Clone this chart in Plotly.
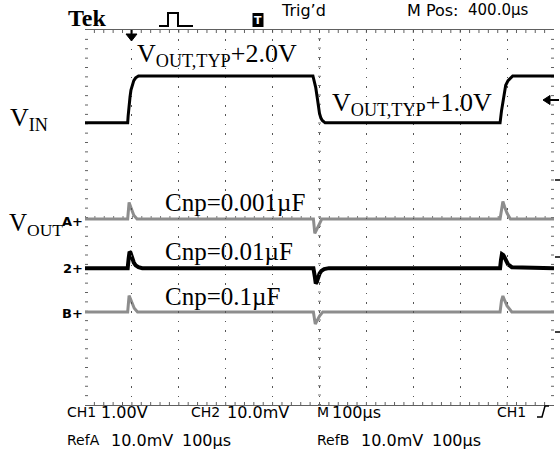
import plotly.graph_objects as go

# ---------------- data (time in microseconds, VIN in V above VOUT,TYP, VOUT deviation in mV)
t_vin = [0, 91, 92, 94, 96, 98, 101, 104, 108, 114, 486, 489, 492, 495, 497, 500, 503, 506, 512,
         885, 888, 891, 894, 897, 902, 912, 1000]
v_vin = [1.0, 1.0, 1.15, 1.45, 1.55, 1.7, 1.8, 1.9, 1.96, 2.0, 2.0, 1.9, 1.75, 1.55, 1.4, 1.2, 1.1, 1.05, 1.0,
         1.0, 1.25, 1.47, 1.68, 1.8, 1.9, 2.0, 2.0]

t_ch2 = [0, 91, 93, 95, 97, 100, 104, 108, 114, 122, 487, 490, 492, 494, 497, 500, 504, 510, 520,
         885, 887, 889, 892, 896, 902, 910, 1000]
v_ch2 = [0, 0, 2.0, 3.5, 3.3, 2.3, 1.2, 0.6, 0.2, 0, 0, -1.8, -3.3, -3.0, -2.0, -1.2, -0.6, -0.2, 0,
         0, 1.8, 3.0, 2.8, 1.8, 0.8, 0.2, 0]

t_refa = [0, 91, 94, 97, 100, 104, 111, 487, 490, 494, 498, 505, 885, 888, 891, 895, 900, 907, 1000]
v_refa = [0, 0, 3.5, 2.6, 1.6, 0.8, 0, 0, -3.1, -2.3, -1.3, 0, 0, 2.5, 3.7, 2.5, 1.2, 0, 0]

t_refb = [0, 91, 94, 97, 101, 105, 112, 487, 491, 495, 500, 507, 885, 888, 891, 895, 900, 910, 1000]
v_refb = [0, 0, 3.5, 2.7, 1.6, 0.8, 0, 0, -2.6, -1.8, -0.9, 0, 0, 2.4, 3.4, 2.4, 1.3, 0, 0]

cap_labels = ["Cnp=0.001µF", "Cnp=0.01µF", "Cnp=0.1µF"]
level_labels = ["V<sub>OUT,TYP</sub>+2.0V", "V<sub>OUT,TYP</sub>+1.0V"]

# ---------------- geometry (reference pixel coords)
L, R, T, B = 85, 554, 30, 405
W, H = R - L, B - T
def px(x): return (x - L) / W
def py(y): return (B - y) / H

fig = go.Figure()
GRAY = "#8d8d8d"
fig.add_trace(go.Scatter(x=t_refa, y=v_refa, xaxis="x", yaxis="y2", mode="lines",
                         line=dict(color=GRAY, width=3), hoverinfo="skip"))
fig.add_trace(go.Scatter(x=t_refb, y=v_refb, xaxis="x", yaxis="y3", mode="lines",
                         line=dict(color=GRAY, width=3), hoverinfo="skip"))
fig.add_trace(go.Scatter(x=t_ch2, y=v_ch2, xaxis="x", yaxis="y4", mode="lines",
                         line=dict(color="black", width=4), hoverinfo="skip"))
fig.add_trace(go.Scatter(x=t_vin, y=v_vin, xaxis="x", yaxis="y5", mode="lines",
                         line=dict(color="black", width=3), hoverinfo="skip"))

DOT = "1.5px,7.88px"
GC = "#555555"
BC = "#606060"
hidden = dict(overlaying="y", showline=False, showgrid=False, zeroline=False,
              showticklabels=False, ticks="", fixedrange=True)
fig.update_layout(
    width=560, height=454, autosize=False,
    margin=dict(l=L, r=560 - R, t=T, b=454 - B, pad=0, autoexpand=False),
    paper_bgcolor="white", plot_bgcolor="rgba(0,0,0,0)", showlegend=False,
    xaxis=dict(range=[0, 1000], tick0=0, dtick=100, showgrid=True, gridcolor=GC, gridwidth=1.2,
               griddash=DOT, zeroline=False, showticklabels=False, ticks="",
               showline=True, linecolor=BC, linewidth=1, mirror=True, fixedrange=True),
    yaxis=dict(range=[-4, 4], tick0=0, dtick=1, showgrid=True, gridcolor=GC, gridwidth=1.2,
               griddash=DOT, zeroline=False, showticklabels=False, ticks="",
               showline=True, linecolor=BC, linewidth=1, mirror=True, fixedrange=True),
    yaxis2=dict(range=[-39.7, 40.3], **hidden),
    yaxis3=dict(range=[-19.85, 60.15], **hidden),
    yaxis4=dict(range=[-29.2, 50.8], **hidden),
    yaxis5=dict(range=[-5.02, 2.98], **hidden),
)

shapes = []
# border ticks (every 1/5 division) as one path
segs = []
tl = 3.0
for k in range(1, 50):
    x = L + k * W / 50.0
    segs.append(f"M {px(x):.5f},{py(T):.5f} L {px(x):.5f},{py(T + tl):.5f}")
    segs.append(f"M {px(x):.5f},{py(B):.5f} L {px(x):.5f},{py(B - tl):.5f}")
for k in range(1, 40):
    y = T + k * H / 40.0
    segs.append(f"M {px(L):.5f},{py(y):.5f} L {px(L + tl):.5f},{py(y):.5f}")
    segs.append(f"M {px(R):.5f},{py(y):.5f} L {px(R - tl):.5f},{py(y):.5f}")
shapes.append(dict(type="path", xref="paper", yref="paper", path=" ".join(segs),
                   line=dict(color=BC, width=1), layer="below"))
# centre crosshair with fine marks
shapes.append(dict(type="line", xref="paper", yref="paper", x0=0.5, x1=0.5, y0=0, y1=1,
                   line=dict(color="#777777", width=3, dash="1px,8.38px"), layer="below"))
shapes.append(dict(type="line", xref="paper", yref="paper", x0=0, x1=1, y0=0.5, y1=0.5,
                   line=dict(color="#777777", width=3, dash="1px,8.38px"), layer="below"))

def path(pts, close=False):
    s = "M " + " L ".join(f"{px(x):.5f},{py(y):.5f}" for x, y in pts)
    return s + (" Z" if close else "")

# pulse icon
shapes.append(dict(type="path", xref="paper", yref="paper",
                   path=path([(159, 26), (168, 26), (168, 13), (178, 13), (178, 26), (193, 26)]),
                   line=dict(color="black", width=2)))
# T icon box
shapes.append(dict(type="rect", xref="paper", yref="paper", x0=px(252.5), x1=px(263.5),
                   y0=py(27), y1=py(13), fillcolor="black", line=dict(width=0)))
# trigger position marker (top)
shapes.append(dict(type="path", xref="paper", yref="paper",
                   path=path([(126, 34), (137, 34), (131.5, 41)], True),
                   fillcolor="black", line=dict(color="black", width=1)))
shapes.append(dict(type="line", xref="paper", yref="paper", x0=px(131.5), x1=px(131.5),
                   y0=py(30), y1=py(35), line=dict(color="black", width=2)))
# trigger level marker (right)
shapes.append(dict(type="path", xref="paper", yref="paper",
                   path=path([(543, 100), (550, 95.5), (550, 104.5)], True),
                   fillcolor="black", line=dict(color="black", width=1)))
shapes.append(dict(type="line", xref="paper", yref="paper", x0=px(549), x1=px(559),
                   y0=py(100), y1=py(100), line=dict(color="black", width=2)))
for yy in (180, 257, 332):
    shapes.append(dict(type="line", xref="paper", yref="paper", x0=px(555), x1=px(560),
                       y0=py(yy), y1=py(yy), line=dict(color="black", width=1.5)))
# trigger slope symbol bottom right
shapes.append(dict(type="path", xref="paper", yref="paper",
                   path=path([(537, 417), (542, 417), (545, 406), (549, 406)]),
                   line=dict(color="black", width=1.5)))
fig.update_layout(shapes=shapes)

ann = []
def txt(text, x, y, size, family, anchor="left", color="black", bold=False):
    ann.append(dict(text=f"<b>{text}</b>" if bold else text, xref="paper", yref="paper",
                    x=px(x), y=py(y), xanchor=anchor, yanchor="middle", showarrow=False,
                    borderpad=0, font=dict(size=size, family=family, color=color)))

SERIF = "Liberation Serif"
SANS = "DejaVu Sans"
txt(level_labels[0], 136, 55, 26, SERIF)
txt(level_labels[1], 331, 104, 26, SERIF)
txt("V<sub>IN</sub>", 9, 119, 26, SERIF)
txt("V<sub>OUT</sub>", 8, 224, 25, SERIF)
txt(cap_labels[0], 164, 202, 25, SERIF)
txt(cap_labels[1], 164, 251.5, 25, SERIF)
txt(cap_labels[2], 164, 296, 25, SERIF)

# channel markers
txt("A+", 84, 221, 13, SANS, anchor="right", bold=True)
txt("2+", 84, 268, 13, SANS, anchor="right", bold=True)
txt("B+", 84, 313, 13, SANS, anchor="right", bold=True)

# header
txt("Tek", 67, 18, 24, SERIF, bold=True)
txt("T", 258, 20, 11, SANS, anchor="center", color="white", bold=True)
txt("Trig’d", 280, 10, 16, SANS)
txt("M Pos:", 406, 10, 16, SANS)
txt("400.0µs", 467, 10, 15, SANS)

# footer
FL, FN = 14, 16
txt("CH1", 66, 412, FL, SANS)
txt("1.00V", 100, 412, FN, SANS)
txt("CH2", 190, 412, FL, SANS)
txt("10.0mV", 226, 412, FN, SANS)
txt("M", 316, 412, FL, SANS)
txt("100µs", 331, 412, FN, SANS)
txt("CH1", 496, 412, FL, SANS)
txt("RefA", 66, 440, FL, SANS)
txt("10.0mV", 110, 440, FN, SANS)
txt("100µs", 181, 440, FN, SANS)
txt("RefB", 316, 440, FL, SANS)
txt("10.0mV", 360, 440, FN, SANS)
txt("100µs", 431, 440, FN, SANS)

fig.update_layout(annotations=ann)
fig.write_html("out.html", config={"displayModeBar": False},
               post_script="document.body.style.margin='0';document.body.style.overflow='hidden';")
